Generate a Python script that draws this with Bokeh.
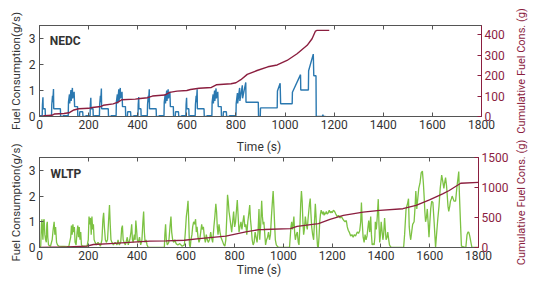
from bokeh.plotting import figure
from bokeh.models import Range1d, LinearAxis, Label, FixedTicker, CustomJSTickFormatter
from bokeh.layouts import column, row
from bokeh.embed import file_html
from bokeh.resources import INLINE

# ---------------- data ----------------
x_ticks = [0, 200, 400, 600, 800, 1000, 1200, 1400, 1600, 1800]
fc_ticks = [0, 1, 2, 3]
nedc_cum_ticks = [0, 100, 200, 300, 400]
wltp_cum_ticks = [0, 500, 1000, 1500]

nedc_time = [
    0, 11, 12, 14, 15, 23, 24, 28, 29, 49, 50, 53, 54, 57, 58, 85, 86, 96, 97, 117, 118, 122, 123, 128, 129, 134, 135, 141, 143, 155, 156, 163, 164, 176, 177, 188, 189,
    195, 206, 207, 209, 210, 218, 219, 223, 224, 244, 245, 248, 249, 252, 253, 280, 281, 291, 292, 312, 313, 317, 318, 323, 324, 329, 330, 336, 338, 350, 351, 358, 359, 371, 372, 383, 384,
    390, 401, 402, 404, 405, 413, 414, 418, 419, 439, 440, 443, 444, 447, 448, 475, 476, 486, 487, 507, 508, 512, 513, 518, 519, 524, 525, 531, 533, 545, 546, 553, 554, 566, 567, 578, 579,
    585, 596, 597, 599, 600, 608, 609, 613, 614, 634, 635, 638, 639, 642, 643, 670, 671, 681, 682, 702, 703, 707, 708, 713, 714, 719, 720, 726, 728, 740, 741, 748, 749, 761, 762, 773, 774,
    780, 800, 801, 806, 807, 815, 816, 826, 827, 840, 841, 891, 892, 899, 900, 968, 969, 980, 982, 1029, 1030, 1063, 1064, 1095, 1096, 1115, 1117, 1126, 1127, 1152, 1154, 1156, 1165,
]
nedc_fuel = [
    0.03, 0.03, 0.45, 0.74, 0.3, 0.3, 0.0, 0.0, 0.03, 0.03, 0.45, 0.8, 0.55, 1.06, 0.3, 0.3, 0.0, 0.0, 0.03, 0.03, 0.55, 0.85, 0.5, 1.02, 0.6, 1.1, 0.7, 0.95, 0.38, 0.38, 0.0, 0.0, 0.18, 0.18, 0.0, 0.0, 0.03,
    0.03, 0.03, 0.45, 0.72, 0.3, 0.3, 0.0, 0.0, 0.03, 0.03, 0.45, 0.8, 0.55, 1.08, 0.3, 0.3, 0.0, 0.0, 0.03, 0.03, 0.55, 0.85, 0.5, 1.05, 0.6, 1.1, 0.7, 0.95, 0.38, 0.38, 0.0, 0.0, 0.18, 0.18, 0.0, 0.0, 0.03,
    0.03, 0.03, 0.45, 0.75, 0.3, 0.3, 0.0, 0.0, 0.03, 0.03, 0.45, 0.8, 0.55, 1.05, 0.3, 0.3, 0.0, 0.0, 0.03, 0.03, 0.55, 0.85, 0.5, 1.0, 0.6, 1.05, 0.7, 0.95, 0.38, 0.38, 0.0, 0.0, 0.18, 0.18, 0.0, 0.0, 0.03,
    0.03, 0.03, 0.45, 0.72, 0.3, 0.3, 0.0, 0.0, 0.03, 0.03, 0.45, 0.8, 0.55, 1.05, 0.3, 0.3, 0.0, 0.0, 0.03, 0.03, 0.55, 0.85, 0.5, 1.0, 0.6, 1.08, 0.7, 0.95, 0.38, 0.38, 0.0, 0.0, 0.18, 0.18, 0.0, 0.0, 0.03,
    0.03, 0.03, 0.5, 0.9, 0.5, 1.1, 0.6, 1.2, 0.7, 1.31, 0.55, 0.55, 0.0, 0.0, 0.33, 0.33, 0.98, 1.28, 0.49, 0.49, 0.93, 1.61, 1.02, 1.02, 1.76, 2.4, 1.57, 1.57, 0.0, 0.0, 0.07, 0.0, 0.0,
]

nedc_cum_time = [0, 10, 20, 50, 60, 100, 120, 140, 160, 200, 215, 250, 260, 300, 320, 335, 390, 410, 440, 460, 510, 530, 560, 600, 615, 650, 700, 720, 780, 800, 820, 846, 886, 930, 968, 1008, 1049, 1090, 1110, 1124, 1130, 1180]
nedc_cum = [0, 0, 4, 6, 12, 15, 18, 32, 38, 40, 44, 49, 55, 62, 70, 82, 85, 88, 92, 100, 105, 118, 124, 127, 132, 138, 142, 155, 160, 165, 180, 206, 225, 243, 252, 274, 307, 348, 380, 418, 421, 421]

wltp_time = [
    0, 5, 8, 10, 12, 14, 17, 19, 22, 25, 28, 30, 32, 34, 37, 45, 52, 56, 60, 63, 66, 70, 74, 80, 120, 128, 131, 134, 137, 140, 143, 146, 150, 154, 157, 160, 163, 166, 169, 172, 176,
    195, 200, 203, 206, 209, 212, 215, 218, 221, 224, 228, 233, 240, 250, 256, 260, 263, 266, 270, 274, 279, 283, 287, 290, 293, 297, 303, 310, 318, 322, 327, 333, 337, 340, 343, 347, 352,
    360, 364, 370, 375, 378, 381, 384, 389, 392, 395, 398, 401, 405, 410, 415, 420, 424, 427, 430, 433, 437, 441, 446, 512, 514, 517, 520, 524, 530, 535, 539, 542, 546, 550, 555, 560, 567, 575, 585, 594,
    598, 602, 606, 609, 612, 615, 618, 621, 625, 628, 632, 636, 640, 643, 646, 650, 654, 657, 661, 665, 668, 672, 676, 680, 684, 688, 692, 697, 702, 705, 710, 715, 719, 723, 726, 729, 732, 736, 740, 744, 748, 752, 756, 760,
    764, 768, 771, 774, 777, 780, 784, 788, 792, 796, 800, 804, 808, 811, 814, 818, 822, 826, 830, 834, 838, 842, 846, 850, 854, 858, 862, 865, 868, 872, 876, 880, 884, 888, 892, 896,
    900, 903, 907, 911, 914, 917, 920, 923, 927, 931, 935, 939, 943, 947, 951, 955, 958, 961, 964, 967, 971, 975, 980, 1025,
    1028, 1031, 1034, 1037, 1040, 1043, 1046, 1049, 1053, 1057, 1061, 1064, 1068, 1071, 1074, 1077, 1080, 1083, 1086, 1090, 1094, 1098, 1101, 1104, 1107, 1110, 1113, 1116, 1120, 1124, 1127, 1131, 1134, 1137, 1140, 1143,
    1146, 1149, 1152, 1155, 1158, 1161, 1164, 1167, 1170, 1173, 1176, 1180, 1184, 1188, 1192, 1196, 1200, 1205, 1210, 1215, 1221, 1226, 1232, 1238, 1244, 1248, 1253, 1258, 1262, 1266, 1270, 1276, 1281, 1286, 1291, 1296, 1303, 1308, 1313, 1317,
    1320, 1323, 1327, 1331, 1335, 1339, 1343, 1347, 1350, 1354, 1358, 1361, 1364, 1368, 1372, 1375, 1377, 1381, 1385, 1389, 1392, 1395, 1398, 1401, 1405, 1408, 1411, 1415, 1418, 1421, 1425, 1428, 1432, 1435, 1438, 1442, 1445, 1493,
    1497, 1500, 1503, 1509, 1513, 1516, 1519, 1522, 1526, 1530, 1536, 1540, 1543, 1547, 1550, 1555, 1560, 1565, 1570, 1574, 1577, 1580, 1583, 1587, 1590, 1594, 1597, 1600, 1604, 1608, 1613, 1618, 1624, 1628, 1633, 1638, 1643, 1649,
    1653, 1658, 1661, 1665, 1669, 1672, 1675, 1678, 1682, 1685, 1689, 1692, 1696, 1700, 1706, 1709, 1712, 1716, 1719, 1722, 1726, 1730, 1748, 1753, 1757, 1760, 1764, 1767, 1773, 1800,
]
wltp_fuel = [
    0.02, 0.05, 0.9, 1.1, 0.6, 0.3, 1.05, 1.1, 0.5, 0.3, 0.2, 0.9, 1.0, 0.4, 0.1, 0.05, 0.3, 0.7, 1.0, 0.5, 0.8, 0.2, 0.1, 0.05, 0.03, 0.4, 0.85, 0.5, 0.9, 0.6, 0.8, 0.2, 0.1, 0.6, 0.85, 0.4, 0.8, 0.3, 0.6, 0.1, 0.05,
    0.05, 0.3, 1.2, 0.9, 1.15, 0.5, 1.2, 0.7, 0.9, 0.3, 0.2, 0.1, 0.2, 0.05, 0.3, 1.1, 1.35, 0.8, 0.3, 0.2, 0.3, 1.0, 1.65, 0.9, 0.3, 0.2, 0.1, 0.2, 0.1, 0.3, 0.1, 0.2, 0.75, 0.85, 0.3, 0.2, 0.1,
    0.4, 0.1, 0.3, 0.6, 0.9, 0.3, 0.2, 0.5, 0.3, 1.05, 0.7, 0.3, 0.2, 0.4, 0.1, 0.3, 1.0, 1.4, 0.6, 0.2, 0.3, 0.1, 0.0, 0.0, 0.5, 0.9, 0.3, 0.1, 0.2, 0.8, 1.2, 0.6, 0.3, 0.2, 0.3, 0.15, 0.1, 0.15, 0.05, 0.1,
    0.6, 1.2, 1.5, 1.82, 1.0, 0.1, 0.0, 0.3, 0.5, 0.8, 1.0, 0.9, 1.1, 0.6, 0.8, 0.4, 0.2, 0.3, 0.6, 0.9, 0.7, 0.8, 0.4, 0.2, 0.5, 0.3, 0.2, 0.3, 0.6, 0.4, 0.2, 0.8, 1.2, 1.7, 1.4, 0.8, 0.5, 0.9, 0.6, 0.4, 0.3, 0.2, 0.1, 0.05,
    0.3, 1.2, 2.05, 1.8, 1.4, 1.2, 0.9, 0.6, 1.0, 1.4, 0.8, 1.0, 1.5, 1.85, 1.3, 0.6, 0.8, 1.0, 0.7, 1.0, 1.25, 0.8, 0.9, 0.5, 1.0, 1.3, 1.65, 1.1, 0.8, 0.3, 0.1, 0.2, 0.6, 0.4, 0.2, 0.6,
    1.5, 0.3, 0.9, 1.82, 1.2, 0.9, 1.0, 0.6, 0.1, 0.3, 0.4, 0.6, 0.3, 0.5, 1.2, 1.8, 2.2, 1.6, 0.9, 0.3, 0.1, 0.05, 0.0, 0.0,
    0.4, 0.8, 1.0, 0.7, 0.9, 1.2, 0.6, 0.3, 0.5, 0.6, 0.2, 0.1, 0.9, 1.7, 2.2, 1.8, 1.0, 0.5, 0.7, 1.2, 0.9, 0.7, 1.1, 1.4, 1.7, 1.9, 1.3, 0.8, 0.5, 0.3, 0.9, 1.7, 1.2, 0.5, 0.05, 0.0,
    0.4, 1.0, 1.3, 1.45, 1.35, 1.3, 1.4, 1.25, 1.35, 1.3, 1.4, 1.3, 1.35, 1.45, 1.35, 1.4, 1.35, 1.45, 1.4, 1.3, 1.2, 1.25, 1.15, 1.2, 1.1, 1.05, 1.0, 1.05, 0.8, 0.67, 0.6, 0.45, 0.5, 0.4, 0.5, 0.45, 0.6, 0.55, 0.65, 1.0,
    1.75, 1.0, 0.4, 0.2, 0.5, 0.3, 0.45, 0.8, 1.05, 0.6, 1.2, 0.5, 0.1, 0.15, 0.1, 0.4, 1.0, 0.7, 1.2, 1.88, 0.9, 0.2, 0.5, 1.0, 0.6, 0.3, 0.5, 1.15, 0.7, 0.3, 0.4, 0.6, 0.3, 0.1, 0.05, 0.0, 0.0, 0.0,
    0.5, 1.0, 1.5, 1.7, 1.9, 0.8, 0.5, 0.3, 0.6, 0.9, 1.0, 1.6, 2.2, 1.5, 1.8, 2.3, 2.5, 2.9, 2.97, 2.5, 2.0, 1.4, 1.0, 1.2, 1.5, 0.9, 0.4, 0.9, 1.5, 1.8, 1.75, 1.0, 0.0, 0.5, 1.1, 1.6, 2.3, 2.82,
    2.6, 2.3, 2.5, 2.72, 2.4, 2.0, 1.6, 1.4, 1.6, 1.8, 1.9, 2.0, 1.9, 1.8, 1.8, 2.1, 2.4, 2.7, 2.95, 2.0, 1.0, 0.05, 0.0, 0.5, 0.6, 0.6, 0.45, 0.3, 0.0, 0.0,
]

wltp_cum_time = [0, 113, 194, 221, 289, 384, 452, 520, 594, 655, 764, 846, 900, 920, 1029, 1056, 1144, 1191, 1246, 1327, 1395, 1490, 1544, 1599, 1653, 1680, 1727, 1800]
wltp_cum = [0, 11, 22, 50, 66, 88, 105, 110, 121, 149, 188, 260, 298, 300, 315, 353, 397, 469, 535, 590, 618, 646, 701, 795, 894, 950, 1071, 1085]

# ---------------- styling ----------------
FONT = "Roboto"
TXT = "#333333"
BLUE = "#2a78b0"
RED = "#8b1e3f"
GREEN = "#7cc242"
FRAME = "#555555"
MAIN_W = 511
SIDE_W = 24
TOP_H = 135
BOT_H = 150


def style_axis(ax, color=TXT, line_color=FRAME):
    ax.major_tick_in = 4
    ax.major_tick_out = 0
    ax.minor_tick_line_color = None
    ax.axis_line_color = line_color
    ax.major_tick_line_color = line_color
    ax.major_label_text_font = FONT
    ax.major_label_text_color = color
    ax.major_label_text_font_size = "12px"
    ax.axis_label_text_font = FONT
    ax.axis_label_text_font_size = "12px"
    ax.axis_label_text_font_style = "normal"
    ax.axis_label_text_color = color


def make_panel(height, top_border, bottom_border, cum_max, cum_ticks, x_label, top_label):
    p = figure(width=MAIN_W, height=height, output_backend="svg", toolbar_location=None,
               x_range=Range1d(0, 1800), y_range=Range1d(0, 3.5),
               min_border_left=39, min_border_right=MAIN_W - 481,
               min_border_top=top_border, min_border_bottom=bottom_border)
    p.extra_y_ranges = {"cum": Range1d(0, cum_max)}
    p.grid.visible = False
    p.outline_line_color = FRAME
    p.background_fill_color = "white"
    p.border_fill_color = "white"

    xa = p.xaxis[0]
    xa.ticker = FixedTicker(ticks=x_ticks)
    if x_label:
        xa.axis_label = x_label
    style_axis(xa)
    xa.major_label_standoff = 3
    xa.axis_label_standoff = 0

    ya = p.yaxis[0]
    ya.ticker = FixedTicker(ticks=fc_ticks)
    ya.axis_label = "Fuel Consumption(g/s)"
    style_axis(ya)
    ya.axis_label_text_font_size = "11.5px"
    ya.major_label_standoff = 4
    ya.axis_label_standoff = 3

    ra = LinearAxis(y_range_name="cum", ticker=FixedTicker(ticks=cum_ticks))
    style_axis(ra, color=RED, line_color=RED)
    ra.major_label_standoff = 3
    p.add_layout(ra, "right")

    ta = LinearAxis(ticker=FixedTicker(ticks=x_ticks),
                    formatter=CustomJSTickFormatter(code="return ''"))
    style_axis(ta)
    ta.major_label_standoff = 0
    if top_label:
        ta.axis_label = top_label
        ta.axis_label_standoff = 4
    p.add_layout(ta, "above")
    return p


def side_label(height, top_border, bottom_border):
    # narrow companion figure that carries the right-hand axis title (reads bottom-to-top)
    q = figure(width=SIDE_W, height=height, output_backend="svg", toolbar_location=None,
               x_range=Range1d(0, 1), y_range=Range1d(0, 1),
               min_border_left=SIDE_W - 1, min_border_right=0,
               min_border_top=top_border, min_border_bottom=bottom_border)
    q.grid.visible = False
    q.outline_line_color = None
    q.xaxis.visible = False
    q.background_fill_color = "white"
    q.border_fill_color = "white"
    ax = q.yaxis[0]
    ax.ticker = FixedTicker(ticks=[])
    ax.axis_label = "Cumulative Fuel Cons. (g)"
    style_axis(ax, color=RED, line_color=None)
    ax.axis_label_text_font_size = "11px"
    ax.axis_line_color = None
    ax.major_tick_line_color = None
    ax.major_label_standoff = 0
    ax.axis_label_standoff = 7
    return q


# top panel: NEDC
p1 = make_panel(TOP_H, 25, TOP_H - 116, 445, nedc_cum_ticks, None, None)
p1.line(nedc_time, nedc_fuel, line_color=BLUE, line_width=1.4)
p1.line(nedc_cum_time, nedc_cum, y_range_name="cum", line_color=RED, line_width=1.4)
p1.add_layout(Label(x=42, y=2.92, text="NEDC", text_font=FONT, text_font_style="bold",
                    text_font_size="12px", text_color="#333333", text_baseline="middle"))
q1 = side_label(TOP_H, 25, TOP_H - 116)

# bottom panel: WLTP (its top margin carries the x-axis title of the top panel)
bt = 157 - TOP_H
p2 = make_panel(BOT_H, bt, 38, 1500, wltp_cum_ticks, "Time (s)", "Time (s)")
p2.line(wltp_time, wltp_fuel, line_color=GREEN, line_width=1.3)
p2.line(wltp_cum_time, wltp_cum, y_range_name="cum", line_color=RED, line_width=1.3)
p2.add_layout(Label(x=45, y=2.85, text="WLTP", text_font=FONT, text_font_style="bold",
                    text_font_size="12px", text_color="#333333", text_baseline="middle"))
q2 = side_label(BOT_H, bt, 38)

layout = column(row(p1, q1, spacing=0), row(p2, q2, spacing=0), spacing=0)
open("out.html", "w").write(file_html(layout, INLINE))
